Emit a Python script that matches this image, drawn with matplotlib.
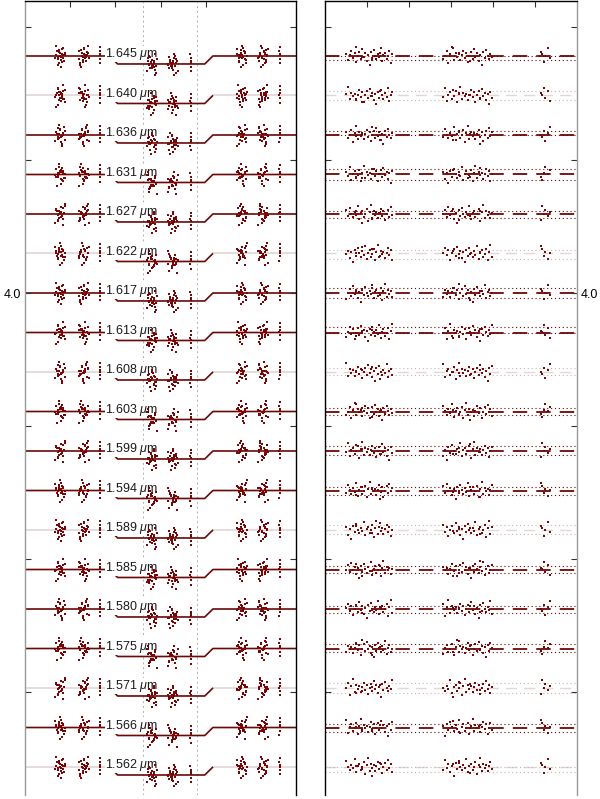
import numpy as np
import matplotlib
matplotlib.use("Agg")
import matplotlib.pyplot as plt

plt.rcParams['font.family'] = ['Liberation Sans', 'DejaVu Sans']
plt.rcParams['mathtext.fontset'] = 'custom'
plt.rcParams['mathtext.it'] = 'Liberation Sans:italic'
plt.rcParams['mathtext.rm'] = 'Liberation Sans'

# longitudes de onda (de arriba hacia abajo)
longitudes = [1.645, 1.640, 1.636, 1.631, 1.627, 1.622, 1.617, 1.613, 1.608, 1.603,
              1.599, 1.594, 1.589, 1.585, 1.580, 1.575, 1.571, 1.566, 1.562]
# filas con el modelo dibujado en tono claro
filas_claras = [1.640, 1.622, 1.608, 1.589, 1.571, 1.562]
separacion = 0.0297
profundidad = 0.006

# contactos del transito (horas) y modelo trapezoidal
t_contactos = [-3.0, -1.125, -0.95, 0.98, 1.16, 3.0]
f_contactos = [0.0, 0.0, -1.0, -1.0, 0.0, 0.0]
lineas_punteadas = [-0.39, 0.81]

# centros de los grupos de datos (horas) en el panel izquierdo
grupos_anchos = [-2.22, -1.70, -0.19, 0.27, 1.80, 2.27]
grupos_finos = [-1.34, 0.67, 2.64]

# centros de los grupos de residuos en el panel derecho
residuos_centros = [1.04, 3.38, 5.24]
residuos_anchos = [0.56, 0.60, 0.12]

# limites punteados (+/- sigma) en cada fila, en unidades de flujo
sigma_sup = [0.0000, 0.0034, 0.0030, 0.0038, 0.0026, 0.0030, 0.0034, 0.0038, 0.0030, 0.0030,
             0.0034, 0.0026, 0.0034, 0.0030, 0.0026, 0.0034, 0.0034, 0.0030, 0.0000]
sigma_inf = [0.0030, 0.0034, 0.0000, 0.0038, 0.0030, 0.0040, 0.0034, 0.0000, 0.0024, 0.0030,
             0.0030, 0.0034, 0.0030, 0.0026, 0.0030, 0.0030, 0.0034, 0.0030, 0.0038]

# formas de los grupos de puntos (valores normalizados leidos a ojo)
blob_u = [-0.8, -0.5, -0.2, 0.1, 0.4, 0.7, 0.9, -0.9, -0.6, -0.3, 0.0, 0.3,
          0.6, 0.8, -0.7, -0.4, -0.1, 0.2, 0.5, -0.5, 0.1, 0.6, -0.2, 0.3]
blob_v = [0.1, -0.3, 0.5, -0.1, 0.2, -0.4, 0.3, -0.2, 0.4, -0.6, 0.0, 0.6,
          -0.2, 0.1, 0.9, -0.8, 0.25, -0.35, 0.05, -0.05, -1.0, 0.7, 0.35, -0.5]
fino_u = [-0.3, 0.2, -0.1, 0.3, 0.0, -0.2]
fino_v = [-0.75, -0.3, 0.05, 0.25, 0.55, 0.95]
ancho_u = [-0.95, -0.88, -0.8, -0.74, -0.66, -0.6, -0.52, -0.45, -0.4, -0.33, -0.27, -0.2,
           -0.14, -0.08, -0.02, 0.04, 0.1, 0.15, 0.22, 0.28, 0.33, 0.4, 0.46, 0.52,
           0.58, 0.63, 0.7, 0.76, 0.82, 0.88, 0.93, 0.98, -0.56, 0.12, 0.5, -0.3]
ancho_v = [0.2, -0.5, 0.1, 0.6, -0.2, 0.35, -0.7, 0.0, 0.5, -0.3, 0.8, -0.1,
           0.3, -0.55, 0.15, -1.0, 0.45, -0.25, 0.65, 0.05, -0.4, 0.25, -0.15, 0.9,
           -0.6, 0.1, 0.4, -0.35, -0.05, 0.55, -0.8, 0.2, 1.0, -0.45, 0.3, -0.1]

rojo = '#780808'
linea_osc = '#6a0808'
linea_clara = '#e2d6d6'

fig = plt.figure(figsize=(6.0, 7.99), dpi=100)
ax1 = fig.add_axes([25 / 600, 4 / 799, 271 / 600, 794 / 799])
ax2 = fig.add_axes([325 / 600, 4 / 799, 252 / 600, 794 / 799])

ylim = (4.0 - 502 / 1330, 4.0 + 292 / 1330)
t_modelo = np.linspace(-3, 3, 601)
forma = np.interp(t_modelo, t_contactos, f_contactos)

for i, wl in enumerate(longitudes):
    y0 = 4.0 + (6 - i) * separacion
    clara = wl in filas_claras
    modelo = y0 + profundidad * forma

    # panel izquierdo: curva de luz
    if clara:
        fuera = t_modelo <= t_contactos[1]
        ax1.plot(t_modelo[fuera], modelo[fuera], color=linea_clara, lw=1.2, zorder=1)
        fuera = t_modelo >= t_contactos[4]
        ax1.plot(t_modelo[fuera], modelo[fuera], color=linea_clara, lw=1.2, zorder=1)
        dentro = (t_modelo >= t_contactos[1]) & (t_modelo <= t_contactos[4])
        ax1.plot(t_modelo[dentro], modelo[dentro], color=linea_osc, lw=1.2, zorder=1)
    else:
        ax1.plot(t_modelo, modelo, color=linea_osc, lw=1.2, zorder=1)

    bu = np.roll(blob_u, i * 3)
    bv = np.roll(blob_v, i * 7)
    for k, c in enumerate(grupos_anchos):
        uu = np.roll(bu, k * 5)
        vv = np.roll(bv, k * 4)
        tt = c + 0.12 * uu
        ff = y0 + profundidad * np.interp(tt, t_contactos, f_contactos) + 0.0085 * vv
        ax1.scatter(tt, ff, s=3.5, marker='s', color=rojo, lw=0, zorder=3)
    fv = np.roll(fino_v, i * 2)
    for k, c in enumerate(grupos_finos):
        tt = c + 0.02 * np.array(fino_u)
        ff = y0 + profundidad * np.interp(tt, t_contactos, f_contactos) + 0.0075 * np.roll(fv, k)
        ax1.scatter(tt, ff, s=3.5, marker='s', color=rojo, lw=0, zorder=3)

    ax1.text(-1.22, y0 + 0.0014, f'{wl:.3f} $\\mu$m', fontsize=9, color='#1a1a1a',
             ha='left', va='center', zorder=2,
             bbox=dict(facecolor='white', edgecolor='none', pad=0.2))

    # panel derecho: residuos
    if clara:
        ax2.plot([0, 6], [y0, y0], color=linea_clara, lw=1.0, dashes=(8, 5), zorder=1)
        col_p = '#c8b4b4'
    else:
        ax2.plot([0, 6], [y0, y0], color=linea_osc, lw=1.3, dashes=(8, 5), zorder=1)
        col_p = linea_osc
    ax2.plot([0, 6], [y0 + sigma_sup[i]] * 2, color=col_p, lw=0.8, ls=(0, (1, 2.5)), zorder=1)
    ax2.plot([0, 6], [y0 - sigma_inf[i]] * 2, color=col_p, lw=0.8, ls=(0, (1, 2.5)), zorder=1)

    au = np.array(ancho_u)
    av = np.roll(ancho_v, i * 5)
    for k, c in enumerate(residuos_centros):
        if residuos_anchos[k] < 0.3:
            xx = c + residuos_anchos[k] * np.array(fino_u) * 3
            yy = y0 + 0.006 * np.roll(fino_v, i + k)
        else:
            xx = c + residuos_anchos[k] * au
            yy = y0 + 0.0065 * np.roll(av, k * 9)
        ax2.scatter(xx, yy, s=2.2, marker='s', color=rojo, lw=0, zorder=3)

for ax in (ax1, ax2):
    ax.set_ylim(*ylim)
    ax.set_yticks([3.7, 3.8, 3.9, 4.0, 4.1, 4.2])
    ax.tick_params(axis='both', direction='in', length=4, width=0.8,
                   top=True, bottom=False, left=True, right=True,
                   labelbottom=False, labeltop=False, colors='#333333')
    ax.spines['bottom'].set_visible(False)
    for s in ax.spines.values():
        s.set_linewidth(1.0)

ax1.set_xlim(-3, 3)
ax1.set_xticks([-2, -1, 0, 1])
for xv in lineas_punteadas:
    ax1.axvline(xv, color='#b0b0b0', lw=0.7, ls=(0, (2, 3)), zorder=0)
ax1.set_yticklabels(['', '', '', '4.0', '', ''], fontsize=9)
ax1.tick_params(axis='y', labelleft=True, labelright=False, pad=3, labelcolor='black')
ax1.spines['left'].set_color('#999999')

ax2.set_xlim(0, 6)
ax2.set_xticks([1, 2, 3, 4, 5])
ax2.set_yticklabels(['', '', '', '4.0', '', ''], fontsize=9)
ax2.tick_params(axis='y', labelleft=False, labelright=True, pad=3, labelcolor='black')
ax2.spines['right'].set_color('#999999')

fig.savefig('out.png', dpi=100)
